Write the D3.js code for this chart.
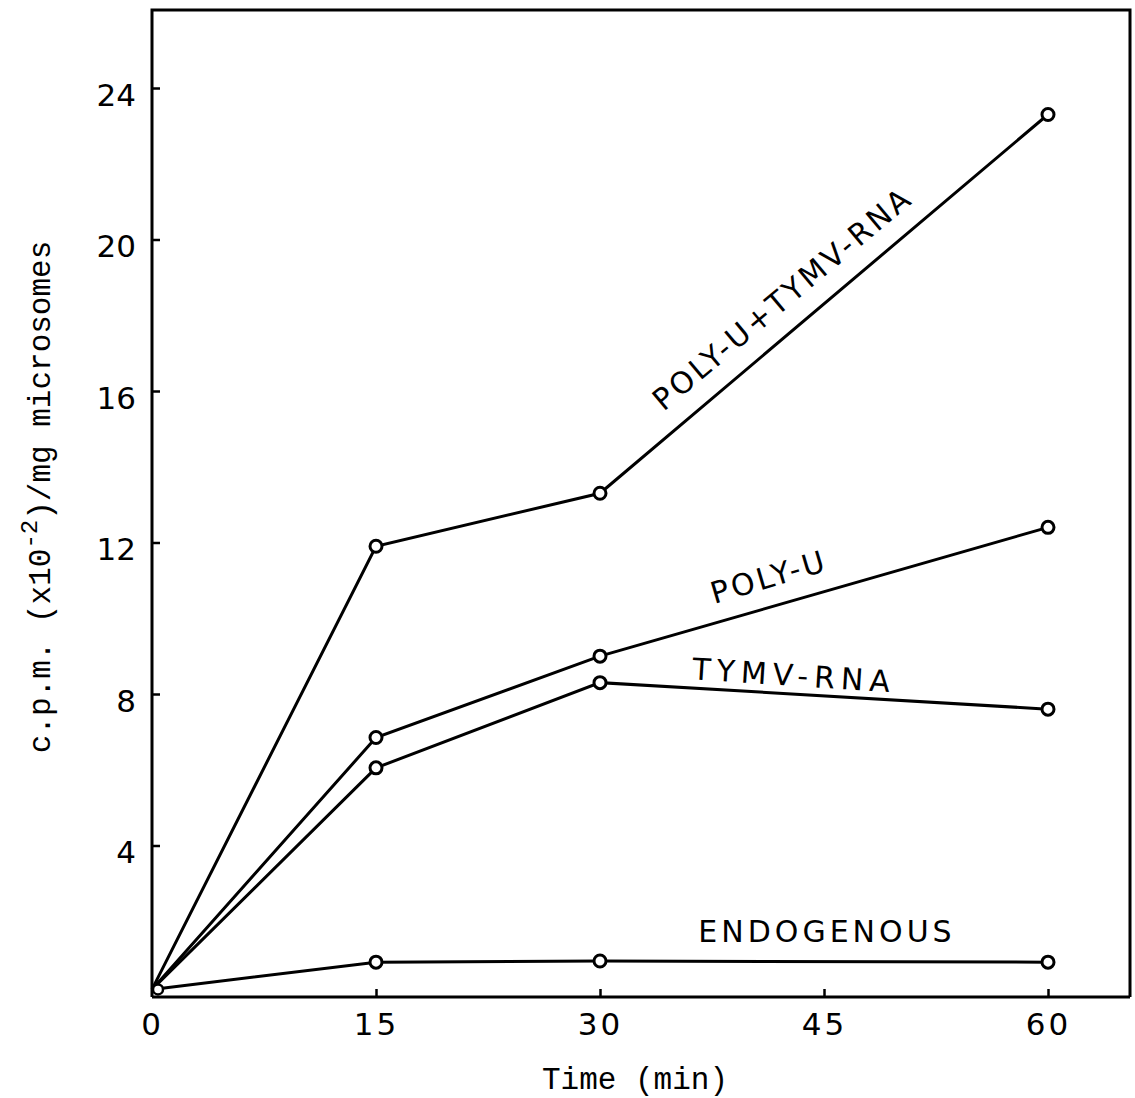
<!DOCTYPE html>
<html>
<head>
<meta charset="utf-8">
<script src="https://cdn.jsdelivr.net/npm/d3@7"></script>
<style>
    body { margin: 0; background: #fff; }
    text { fill: #000; }
</style>
</head>
<body>
<div id="graphic"></div>
<script>
const times = [0, 15, 30, 60]
const seriesNames = ["POLY-U+TYMV-RNA", "POLY-U", "TYMV-RNA", "ENDOGENOUS"]
const polyUTymv = [0.2, 11.9, 13.3, 23.3]
const polyU = [0.2, 6.85, 9.0, 12.4]
const tymvRna = [0.2, 6.05, 8.3, 7.6]
const endogenous = [0.2, 0.92, 0.95, 0.92]
const xTicks = [0, 15, 30, 45, 60]
const yTicks = [4, 8, 12, 16, 20, 24]

const allSeries = [polyUTymv, polyU, tymvRna, endogenous]

const svgWidth = 1135
const svgHeight = 1098
const margin = { top: 10, right: 5, bottom: 101, left: 152 }
const width = svgWidth - margin.left - margin.right
const height = svgHeight - margin.top - margin.bottom

// 0..60 min spans 896px, the frame runs on to the right border
let x = d3.scaleLinear()
    .domain([0, 60 * width / 896])
    .range([0, width])

// 24 sits at 88px, zero on the bottom axis
let y = d3.scaleLinear()
    .domain([0, 24 * height / 909])
    .range([height, 0])

let svg = d3.select("#graphic").append("svg")
    .attr("width", svgWidth)
    .attr("height", svgHeight)
    .append("g")
    .attr("transform", "translate(" + margin.left + "," + margin.top + ")")

// frame: left axis, top and right borders
svg.append("path")
    .attr("d", "M0," + height + "V0H" + width + "V" + height)
    .attr("fill", "none")
    .attr("stroke", "#000")
    .attr("stroke-width", 3)

let xAxis = svg.append("g")
    .attr("transform", "translate(0," + height + ")")
    .call(d3.axisBottom(x)
        .tickValues(xTicks)
        .tickSize(-8)
        .tickPadding(16)
        .tickFormat(d3.format("d")))

xAxis.select(".domain")
    .attr("stroke-width", 3)
    .attr("d", "M0,0H" + width)
xAxis.selectAll(".tick line")
    .attr("stroke-width", 2.5)
    .filter(function (d) { return d === 0 })
    .remove()
xAxis.selectAll(".tick text")
    .attr("font-family", "'DejaVu Sans', sans-serif")
    .attr("font-size", 31)
    .attr("letter-spacing", 3)

let yAxis = svg.append("g")
    .call(d3.axisLeft(y)
        .tickValues(yTicks)
        .tickSize(-8)
        .tickPadding(16)
        .tickFormat(d3.format("d")))

yAxis.select(".domain").remove()
yAxis.selectAll(".tick line")
    .attr("stroke-width", 2.5)
yAxis.selectAll(".tick text")
    .attr("font-family", "'DejaVu Sans', sans-serif")
    .attr("font-size", 31)
    .attr("dy", "0.55em")

let line = d3.line()
    .x(function (d, i) { return x(times[i]) })
    .y(function (d) { return y(d) })

svg.selectAll(null)
    .data(allSeries)
    .enter().append("path")
    .attr("d", function (d) { return line(d) })
    .attr("fill", "none")
    .attr("stroke", "#000")
    .attr("stroke-width", 3)

allSeries.forEach(function (s) {
    svg.selectAll(null)
        .data(s.slice(1))
        .enter().append("circle")
        .attr("cx", function (d, i) { return x(times[i + 1]) })
        .attr("cy", function (d) { return y(d) })
        .attr("r", 6)
        .attr("fill", "#fff")
        .attr("stroke", "#000")
        .attr("stroke-width", 3)
})

// shared origin point
svg.append("circle")
    .attr("cx", x(0) + 6)
    .attr("cy", y(polyU[0]))
    .attr("r", 5)
    .attr("fill", "#fff")
    .attr("stroke", "#000")
    .attr("stroke-width", 2.5)

// hand lettered series labels: [time, value, angle, letter spacing]
const labelSpots = [
    [42.2, 18.45, -40, 3],
    [41.3, 11.1, -16.5, 3],
    [43.0, 8.5, 3.7, 6],
    [45.2, 1.75, 0, 4]
]

svg.selectAll(null)
    .data(seriesNames)
    .enter().append("text")
    .attr("transform", function (d, i) {
        let p = labelSpots[i]
        return "translate(" + x(p[0]) + "," + y(p[1]) + ") rotate(" + p[2] + ")"
    })
    .attr("text-anchor", "middle")
    .attr("dy", "0.36em")
    .attr("font-family", "'DejaVu Sans', sans-serif")
    .attr("font-size", 30)
    .attr("letter-spacing", function (d, i) { return labelSpots[i][3] })
    .text(function (d) { return d })

// axis titles
svg.append("text")
    .attr("x", 635 - margin.left)
    .attr("y", height + 92)
    .attr("text-anchor", "middle")
    .attr("font-family", "'Liberation Mono', monospace")
    .attr("font-size", 31)
    .text("Time (min)")

let yTitle = svg.append("text")
    .attr("transform", "translate(" + (50 - margin.left) + "," + (497 - margin.top) + ") rotate(-90)")
    .attr("text-anchor", "middle")
    .attr("font-family", "'Liberation Mono', monospace")
    .attr("font-size", 31)

yTitle.append("tspan").text("c.p.m. (x10")
yTitle.append("tspan")
    .attr("dy", -13)
    .attr("font-size", 24)
    .text("-2")
yTitle.append("tspan")
    .attr("dy", 13)
    .text(")/mg microsomes")
</script>
</body>
</html>
